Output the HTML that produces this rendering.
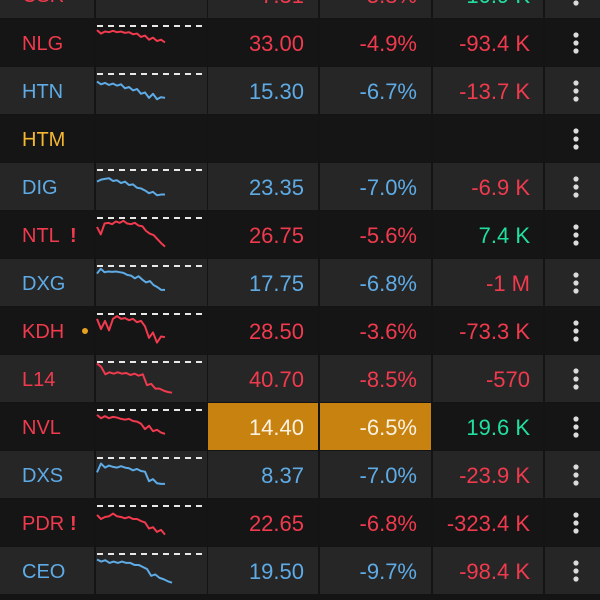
<!DOCTYPE html>
<html><head><meta charset="utf-8">
<style>
html,body{margin:0;padding:0;background:#141414;}
body{width:600px;height:600px;overflow:hidden;position:relative;font-family:"Liberation Sans",sans-serif;}
</style></head>
<body>
<svg id="sv" width="600" height="600" style="position:absolute;left:0;top:0"></svg>
<script>
const tickers=["CSR","NLG","HTN","HTM","DIG","NTL","DXG","KDH","L14","NVL","DXS","PDR","CEO"];
const prices=["7.31","33.00","15.30","","23.35","26.75","17.75","28.50","40.70","14.40","8.37","22.65","19.50"];
const changes=["-5.8%","-4.9%","-6.7%","","-7.0%","-5.6%","-6.8%","-3.6%","-8.5%","-6.5%","-7.0%","-6.8%","-9.7%"];
const volumes=["-10.9 K","-93.4 K","-13.7 K","","-6.9 K","7.4 K","-1 M","-73.3 K","-570","19.6 K","-23.9 K","-323.4 K","-98.4 K"];
const tickerColor=["r","r","b","y","b","r","b","r","r","r","b","r","b"];
const priceColor=["r","r","b","","b","r","b","r","r","w","b","r","b"];
const volColor=["g","r","r","","r","g","r","r","r","g","r","r","r"];
const flags=["","","","","","!","","dot","","","","!",""];
const spark=[
 [],
 [76,66,72,70,74,70,72,68,70,64,66,56,60,48,54,44,48,40],
 [66,58,62,56,60,54,58,46,50,40,44,30,34,18,30,14,20,18],
 [],
 [54,60,62,64,56,58,50,54,44,46,36,34,28,20,24,14,16,16],
 [62,40,72,74,70,78,74,80,72,70,74,66,64,50,42,38,26,14,4],
 [66,80,70,72,71,72,70,68,62,60,52,58,48,40,44,32,26,18,18],
 [74,44,68,40,74,82,74,76,70,74,64,68,52,18,34,4,22,20],
 [84,74,52,58,54,58,54,56,50,54,48,52,20,24,10,10,4,0,-2],
 [74,64,70,64,68,66,62,60,62,56,54,48,32,42,26,30,22,18],
 [46,72,60,66,62,60,64,60,58,52,56,50,48,20,26,14,12,12],
 [62,50,56,58,66,58,56,52,56,50,50,44,40,22,26,12,18,4],
 [72,66,70,62,66,62,66,62,62,56,56,50,44,24,28,18,14,8,4]
];
const COLORS={r:"#f03a4e",b:"#5eabe6",y:"#f5b830",g:"#20e0a0",w:"#fbf2e2"};
const sv=document.getElementById('sv');
const NS="http://www.w3.org/2000/svg";
const ROW0=-29,RH=48;
function rowY(i){return ROW0+i*RH;}
function sx(j,n,i){const w=i===12||i===8?75:68;return 97+j*(w/(n-1));}
function sy(v,i){return rowY(i)+37-v*0.34;}
function mk(tag,attrs){const e=document.createElementNS(NS,tag);for(const k in attrs)e.setAttribute(k,attrs[k]);sv.appendChild(e);return e;}
const cols=[[0,94],[96,111],[208,110],[320,111],[433,110],[545,55]];
tickers.forEach((t,i)=>{
  const y=rowY(i);
  const bg=(i%2===0)?"#262626":"#151515";
  cols.forEach((c,k)=>{
    let f=bg;
    if(i===9&&(k===2||k===3))f="#c8820f";
    const r=mk('rect',{x:c[0],y:y,width:c[1],height:RH-1,fill:f});
    
    
  });
  const tx=mk('text',{x:22,y:y+31,fill:COLORS[tickerColor[i]],'font-size':20});
  tx.textContent=t;
  
  
  if(flags[i]==="!"){const f=mk('text',{x:70,y:y+31,fill:"#f03a4e",'font-size':20,'font-weight':'bold'});f.textContent="!";
    }
  if(flags[i]==="dot"){const f=mk('circle',{cx:85,cy:y+24,r:3,fill:"#e8a020"});
    }
  if(spark[i].length){
    const d=mk('line',{x1:97,y1:y+7,x2:206,y2:y+7,stroke:"#e8e8e8",'stroke-width':2,'stroke-dasharray':'6 5'});
    
    const pts=spark[i].map((v,j)=>sx(j,spark[i].length,i)+","+sy(v,i)).join(" ");
    const p=mk('polyline',{points:pts,fill:"none",stroke:COLORS[tickerColor[i]],'stroke-width':2,'stroke-linejoin':'round'});
    
  }
  if(prices[i]){
    const a=mk('text',{x:304,y:y+32,fill:COLORS[priceColor[i]],'font-size':22,'text-anchor':'end'});a.textContent=prices[i];
    
    const b=mk('text',{x:417,y:y+32,fill:COLORS[priceColor[i]],'font-size':22,'text-anchor':'end'});b.textContent=changes[i];
    
    const c=mk('text',{x:530,y:y+32,fill:COLORS[volColor[i]],'font-size':22,'text-anchor':'end'});c.textContent=volumes[i];
    
  }
  const g=mk('g',{});
  
  [-8,0,8].forEach(o=>{const c=document.createElementNS(NS,'circle');c.setAttribute('cx',576);c.setAttribute('cy',y+24+o);c.setAttribute('r',2.6);c.setAttribute('fill','#dcdcdc');g.appendChild(c);});
});
</script>
</body></html>
